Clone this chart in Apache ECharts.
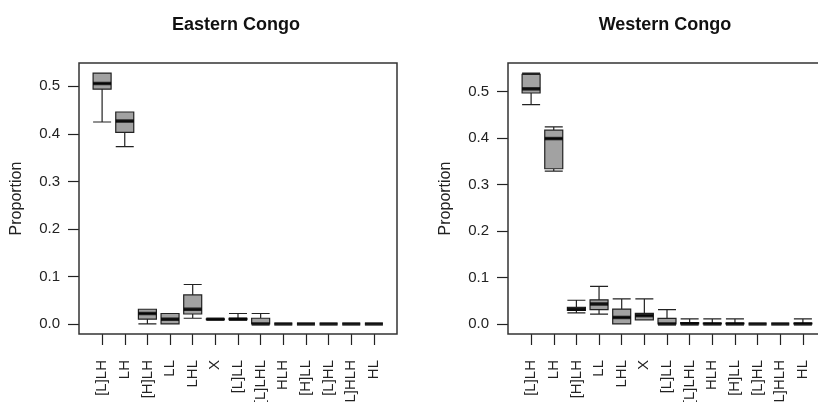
<!DOCTYPE html>
<html>
<head>
<meta charset="utf-8">
<script src="https://cdn.jsdelivr.net/npm/echarts@6/dist/echarts.min.js"></script>
<style>
  html, body { margin: 0; padding: 0; background: #fff; }
  #chart { width: 818px; height: 402px; }
</style>
</head>
<body>
<div id="chart"></div>
<script>
// categories (same order in both panels)
const categories = ['[L]LH', 'LH', '[H]LH', 'LL', 'LHL', 'X', '[L]LL', '[L]LHL', 'HLH', '[H]LL', '[L]HL', '[L]HLH', 'HL'];
const yTickMin = 0, yTickMax = 0.5, yTickStep = 0.1;

// Eastern Congo: five-number summaries
const eastLow    = [0.425, 0.373, 0.000, 0.000, 0.012, 0.009, 0.009, 0.000, 0, 0, 0, 0, 0];
const eastQ1     = [0.494, 0.403, 0.010, 0.000, 0.021, 0.009, 0.009, 0.000, 0, 0, 0, 0, 0];
const eastMedian = [0.506, 0.427, 0.022, 0.010, 0.031, 0.010, 0.010, 0.000, 0, 0, 0, 0, 0];
const eastQ3     = [0.528, 0.446, 0.031, 0.022, 0.061, 0.011, 0.012, 0.012, 0, 0, 0, 0, 0];
const eastHigh   = [0.528, 0.446, 0.031, 0.022, 0.083, 0.011, 0.022, 0.022, 0, 0, 0, 0, 0];

// Western Congo: five-number summaries
const westLow    = [0.472, 0.329, 0.024, 0.021, 0.000, 0.009, 0.000, 0, 0, 0, 0, 0, 0];
const westQ1     = [0.497, 0.334, 0.029, 0.031, 0.000, 0.009, 0.000, 0, 0, 0, 0, 0, 0];
const westMedian = [0.506, 0.399, 0.032, 0.043, 0.014, 0.018, 0.000, 0, 0, 0, 0, 0, 0];
const westQ3     = [0.537, 0.417, 0.036, 0.052, 0.032, 0.023, 0.012, 0.003, 0.002, 0.002, 0, 0, 0.002];
const westHigh   = [0.540, 0.424, 0.051, 0.081, 0.054, 0.054, 0.031, 0.011, 0.011, 0.011, 0, 0, 0.011];

const FONT = 'Liberation Sans, Arial, sans-serif';
const INK = '#222';

function boxData(lo, q1, md, q3, hi) {
  return lo.map((v, i) => [v, q1[i], md[i], q3[i], hi[i]]);
}

// R-style plot region: frame around data, data range padded by 4%
const frameTop = 63, frameH = 271, frameW = 318;
const pad = frameW * 0.52 / 14.04;   // space between frame and first category band

function yRange(lo, hi) {
  const mn = Math.min(...lo), mx = Math.max(...hi);
  const d = (mx - mn) * 0.04;
  return [mn - d, mx + d];
}

const panels = [
  { title: 'Eastern Congo', left: 79, data: boxData(eastLow, eastQ1, eastMedian, eastQ3, eastHigh), med: eastMedian, range: yRange(eastLow, eastHigh) },
  { title: 'Western Congo', left: 508, data: boxData(westLow, westQ1, westMedian, westQ3, westHigh), med: westMedian, range: yRange(westLow, westHigh) }
];

const grid = [], xAxis = [], yAxis = [], series = [], title = [];

panels.forEach((p, k) => {
  const gFrame = k * 3, gData = k * 3 + 1, gTick = k * 3 + 2;
  const [lo, hi] = p.range;
  const pix = v => frameTop + frameH * (hi - v) / (hi - lo);

  title.push({
    text: p.title, left: p.left + frameW / 2 - 7, top: 11, textAlign: 'center',
    textStyle: { fontFamily: FONT, fontSize: 18, fontWeight: 'bold', color: '#111' }
  });

  // frame box + axis title
  grid.push({ left: p.left, top: frameTop, width: frameW, height: frameH, show: true,
    borderColor: '#333', borderWidth: 1.5, backgroundColor: 'transparent', z: 3,
    outerBoundsMode: 'none' });
  xAxis.push({ gridIndex: gFrame, type: 'value', show: false, min: 0, max: 1 });
  yAxis.push({
    gridIndex: gFrame, type: 'value', min: 0, max: 1,
    name: 'Proportion', nameLocation: 'middle', nameGap: 54,
    nameTextStyle: { fontFamily: FONT, fontSize: 16, color: INK },
    axisLine: { show: false }, axisTick: { show: false }, axisLabel: { show: false },
    splitLine: { show: false }
  });

  // data area (categories)
  grid.push({ left: p.left + pad, top: frameTop, width: frameW - 2 * pad, height: frameH,
    outerBoundsMode: 'none' });
  xAxis.push({
    gridIndex: gData, type: 'category', data: categories,
    axisLine: { show: false, onZero: false },
    axisTick: { show: true, alignWithLabel: true, length: 11, lineStyle: { color: INK, width: 1.2 } },
    axisLabel: { interval: 0, rotate: 90, margin: 26, fontFamily: FONT, fontSize: 15, color: INK },
    splitLine: { show: false }
  });
  yAxis.push({
    gridIndex: gData, type: 'value', min: lo, max: hi,
    axisLine: { show: false }, axisTick: { show: false }, axisLabel: { show: false },
    splitLine: { show: false }
  });

  // y tick axis spanning 0..0.5 exactly
  grid.push({ left: p.left, top: pix(yTickMax), width: 10, height: pix(yTickMin) - pix(yTickMax),
    outerBoundsMode: 'none' });
  xAxis.push({ gridIndex: gTick, type: 'value', show: false, min: 0, max: 1 });
  yAxis.push({
    gridIndex: gTick, type: 'value', min: yTickMin, max: yTickMax, interval: yTickStep,
    axisLine: { show: false },
    axisTick: { show: true, length: 11, lineStyle: { color: INK, width: 1.2 } },
    axisLabel: { margin: 19, fontFamily: FONT, fontSize: 15, color: INK, formatter: v => v.toFixed(1) },
    splitLine: { show: false }
  });

  series.push({
    type: 'boxplot', xAxisIndex: gData, yAxisIndex: gData,
    data: p.data, boxWidth: [18, 18],
    itemStyle: { color: '#a2a2a2', borderColor: INK, borderWidth: 1.2 },
    emphasis: { disabled: true }, silent: true
  });
  series.push({
    type: 'scatter', xAxisIndex: gData, yAxisIndex: gData,
    data: p.med, symbol: 'rect', symbolSize: [18, 3.5],
    itemStyle: { color: '#000' }, z: 5, silent: true
  });
});

const chart = echarts.init(document.getElementById('chart'), null, { renderer: 'canvas' });
chart.setOption({
  animation: false,
  backgroundColor: '#fff',
  title, grid, xAxis, yAxis, series
});
</script>
</body>
</html>
